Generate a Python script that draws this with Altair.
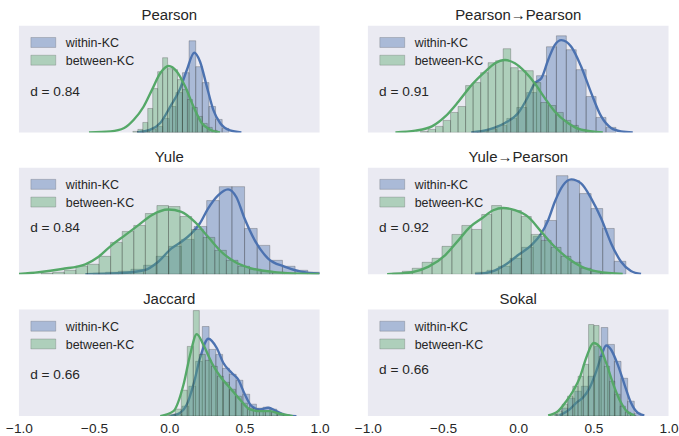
import altair as alt
import pandas as pd

BLUE = "#4C72B0"
GREEN = "#55A868"
TEXT = "#262626"
FONT = "Liberation Sans"
BG = "#EAEAF2"
YMAX = 107

# ---------------- data ----------------
titles = ["Pearson", "Pearson\u2192Pearson", "Yule", "Yule\u2192Pearson", "Jaccard", "Sokal"]
d_labels = ["d = 0.84", "d = 0.91", "d = 0.84", "d = 0.92", "d = 0.66", "d = 0.66"]

# histogram: first bin edge, bin width, bar heights (relative density units)
pearson_within_start, pearson_within_width = -0.176, 0.044
pearson_within_h = [1, 3, 6, 14, 26, 40, 60, 92, 66, 50, 26, 13, 4]
pearson_between_start, pearson_between_width = -0.242, 0.033
pearson_between_h = [1, 3, 10, 24, 44, 61, 75, 64, 63, 53, 43, 33, 25, 16, 9, 5, 2]
pearson_kde_within_x = [-0.214, -0.126, -0.06, 0.007, 0.073, 0.117, 0.166, 0.205, 0.25, 0.293, 0.338, 0.404, 0.48]
pearson_kde_within_y = [0, 2.7, 9.4, 26, 44, 62.7, 80, 71, 46, 22.7, 9.4, 2, 0]
pearson_kde_between_x = [-0.534, -0.39, -0.30, -0.236, -0.17, -0.115, -0.06, -0.005, 0.051, 0.106, 0.161, 0.216, 0.272, 0.338]
pearson_kde_between_y = [0, 1, 4.4, 12.7, 26, 42.7, 59.4, 66.7, 61, 46, 26, 9.4, 2.7, 0]

pp_within_start, pp_within_width = -0.274, 0.066
pp_within_h = [1, 3, 7, 14, 25, 40, 57, 86, 97, 83, 63, 36, 15, 5]
pp_between_start, pp_between_width = -0.65, 0.05
pp_between_h = [1, 3, 6, 12, 20, 26, 47, 50, 60, 70, 72, 84, 65, 62, 62, 50, 30, 27, 20, 12, 7, 3, 1]
pp_kde_within_x = [-0.313, -0.199, -0.088, 0.0, 0.066, 0.11, 0.154, 0.199, 0.243, 0.287, 0.353, 0.419, 0.486, 0.552, 0.618, 0.684, 0.762]
pp_kde_within_y = [0, 2.7, 9.4, 19.4, 36, 49.4, 54.4, 72.7, 87.7, 92.7, 86, 66, 39.4, 16, 4.4, 1, 0]
pp_kde_between_x = [-0.817, -0.684, -0.574, -0.485, -0.397, -0.309, -0.22, -0.154, -0.088, -0.022, 0.044, 0.11, 0.177, 0.243, 0.331, 0.419, 0.563]
pp_kde_between_y = [0, 1.7, 6, 16, 31, 47.7, 61, 69.4, 72.7, 69.4, 61, 49.4, 34.4, 21, 9.4, 2.7, 0]

yule_within_start, yule_within_width = -0.507, 0.084
yule_within_h = [1, 2, 3, 5, 9, 18, 28, 35, 48, 74, 88, 88, 46, 29, 14, 8, 4, 2]
yule_between_start, yule_between_width = -0.852, 0.077
yule_between_h = [1, 2, 4, 8, 10, 18, 32, 43, 49, 61, 69, 68, 58, 45, 37, 24, 14, 8, 5, 3, 2, 1]
yule_kde_within_x = [-0.558, -0.338, -0.161, -0.073, 0.015, 0.081, 0.148, 0.203, 0.258, 0.325, 0.391, 0.446, 0.501, 0.568, 0.656, 0.766, 0.876, 1.0]
yule_kde_within_y = [0, 1, 4.3, 12.6, 26, 32.6, 41, 51, 66, 79.3, 85.3, 77.6, 56, 34.3, 16, 7.6, 2.6, 0.6]
yule_kde_between_x = [-1.0, -0.868, -0.713, -0.558, -0.47, -0.382, -0.293, -0.205, -0.117, -0.007, 0.081, 0.17, 0.258, 0.346, 0.435, 0.545, 0.677, 0.876, 1.0]
yule_kde_between_y = [0.3, 2, 5.3, 10, 17.6, 29.3, 39.3, 49.3, 59.3, 65, 62.6, 52.6, 37.6, 22.6, 12.6, 6, 2.6, 0.6, 0.3]

yp_within_start, yp_within_width = -0.285, 0.077
yp_within_h = [2, 4, 8, 16, 27, 38, 54, 99, 94, 81, 66, 46, 13]
yp_between_start, yp_between_width = -0.837, 0.066
yp_between_h = [1, 3, 6, 12, 16, 28, 40, 49, 45, 60, 69, 66, 64, 58, 40, 34, 27, 18, 12, 6, 3, 1]
yp_kde_within_x = [-0.287, -0.177, -0.088, 0.0, 0.088, 0.154, 0.199, 0.243, 0.298, 0.353, 0.42, 0.486, 0.552, 0.618, 0.684, 0.75, 0.817]
yp_kde_within_y = [0, 2.6, 9.3, 19.3, 29.3, 41, 54.3, 72.6, 89.3, 95.3, 91, 76, 56, 31, 12.6, 3.3, 0.3]
yp_kde_between_x = [-0.872, -0.707, -0.596, -0.485, -0.397, -0.32, -0.243, -0.166, -0.099, -0.022, 0.066, 0.154, 0.243, 0.331, 0.42, 0.53, 0.695]
yp_kde_between_y = [0, 2, 7.6, 19.3, 34.3, 47.6, 56, 64.3, 66.6, 64.3, 57.6, 42.6, 27.6, 16, 7.6, 2.6, 0.3]

jac_within_start, jac_within_width = 0.04, 0.045
jac_within_h = [2, 10, 30, 55, 90, 67, 62, 48, 42, 36, 22, 12, 8, 9, 7, 3, 1]
jac_between_start, jac_between_width = -0.04, 0.04
jac_between_h = [1, 2, 7, 26, 70, 106, 62, 56, 50, 40, 34, 27, 20, 13, 8, 6, 5, 5, 4, 2, 1]
jac_kde_within_x = [0.007, 0.073, 0.117, 0.161, 0.205, 0.26, 0.316, 0.36, 0.415, 0.459, 0.503, 0.548, 0.603, 0.658, 0.713, 0.779, 0.846]
jac_kde_within_y = [0, 3.4, 11.7, 31.7, 58.4, 77.7, 68.4, 53.4, 43.4, 36.7, 21.7, 10, 6.7, 8.4, 5, 0.7, 0]
jac_kde_between_x = [-0.06, 0.028, 0.095, 0.139, 0.183, 0.227, 0.283, 0.338, 0.404, 0.47, 0.536, 0.603, 0.669, 0.735, 0.823]
jac_kde_between_y = [0, 5, 31.7, 61.7, 82.4, 71.7, 53.4, 40, 28.4, 16.7, 6.7, 5, 5, 2.4, 0]

sok_within_start, sok_within_width = 0.244, 0.044
sok_within_h = [2, 8, 18, 25, 30, 40, 70, 89, 72, 55, 38, 15, 3]
sok_between_start, sok_between_width = 0.223, 0.035
sok_between_h = [2, 5, 12, 20, 30, 40, 52, 92, 91, 60, 50, 35, 22, 10, 4, 1]
sok_kde_within_x = [0.276, 0.342, 0.386, 0.43, 0.475, 0.519, 0.552, 0.585, 0.618, 0.662, 0.707, 0.75, 0.795, 0.839]
sok_kde_within_y = [0.7, 6.7, 13.4, 18.4, 28.4, 45, 60, 71, 66.7, 51.7, 31.7, 13.4, 3.4, 0.7]
sok_kde_between_x = [0.199, 0.265, 0.32, 0.364, 0.409, 0.452, 0.501, 0.541, 0.585, 0.629, 0.673, 0.717, 0.773]
sok_kde_between_y = [0.7, 5, 15, 25, 38.4, 58.4, 73.4, 70, 53.4, 33.4, 16.7, 5.7, 0.7]

# ---------------- helpers ----------------
def hist_df(start, width, heights):
    return pd.DataFrame({
        "x0": [start + i * width for i in range(len(heights))],
        "x1": [start + (i + 1) * width for i in range(len(heights))],
        "h": heights,
        "h0": [0] * len(heights),
    })


def kde_df(xs, ys):
    return pd.DataFrame({"x": xs, "y": ys})


X_SCALE = alt.Scale(domain=[-1, 1], nice=False, zero=False)
Y_SCALE = alt.Scale(domain=[0, YMAX], nice=False, zero=False)


def make_panel(title, wi, bt, kw, kb, d_label, d_y, bottom):
    if bottom:
        xax = alt.Axis(values=[-1, -0.5, 0, 0.5, 1], format=".1f", labelFlush=False,
                       ticks=False, domain=False, grid=False, title=None,
                       labelFont=FONT, labelFontSize=13.75, labelColor=TEXT, labelPadding=5)
    else:
        xax = None

    def bars(df, color):
        return alt.Chart(df).mark_rect(fill=color, fillOpacity=0.4, stroke="#303030",
                                       strokeOpacity=0.4, strokeWidth=0.7, clip=True).encode(
            x=alt.X("x0:Q", scale=X_SCALE, axis=xax), x2="x1:Q",
            y=alt.Y("h:Q", scale=Y_SCALE, axis=None), y2="h0:Q")

    def kde(df, color):
        return alt.Chart(df).mark_line(color=color, strokeWidth=2.4, interpolate="monotone",
                                       clip=True).encode(
            x=alt.X("x:Q", scale=X_SCALE, axis=xax),
            y=alt.Y("y:Q", scale=Y_SCALE, axis=None))

    one = pd.DataFrame({"k": [0]})

    def patch(color, y0):
        return alt.Chart(one).mark_rect(fill=color, fillOpacity=0.4, stroke="#303030",
                                        strokeOpacity=0.3, strokeWidth=0.7).encode(
            x=alt.value(12), x2=alt.value(37), y=alt.value(y0), y2=alt.value(y0 + 10))

    def label(txt, x, y, size):
        return alt.Chart(one).mark_text(text=txt, align="left", baseline="alphabetic",
                                        font=FONT, fontSize=size, color=TEXT).encode(
            x=alt.value(x), y=alt.value(y))

    return alt.layer(
        bars(wi, BLUE), kde(kw, BLUE), bars(bt, GREEN), kde(kb, GREEN),
        patch(BLUE, 11.7), patch(GREEN, 29.5),
        label("within-KC", 47, 21.5, 12.5), label("between-KC", 47, 39.3, 12.5),
        label(d_label, 11.3, d_y, 13.75),
    ).properties(
        width=302, height=YMAX,
        title=alt.TitleParams(text=title, font=FONT, fontSize=15, fontWeight="normal",
                              color=TEXT, offset=3, anchor="middle"),
    )


panels = [
    make_panel(titles[0], hist_df(pearson_within_start, pearson_within_width, pearson_within_h),
               hist_df(pearson_between_start, pearson_between_width, pearson_between_h),
               kde_df(pearson_kde_within_x, pearson_kde_within_y),
               kde_df(pearson_kde_between_x, pearson_kde_between_y), d_labels[0], 70, False),
    make_panel(titles[1], hist_df(pp_within_start, pp_within_width, pp_within_h),
               hist_df(pp_between_start, pp_between_width, pp_between_h),
               kde_df(pp_kde_within_x, pp_kde_within_y),
               kde_df(pp_kde_between_x, pp_kde_between_y), d_labels[1], 70, False),
    make_panel(titles[2], hist_df(yule_within_start, yule_within_width, yule_within_h),
               hist_df(yule_between_start, yule_between_width, yule_between_h),
               kde_df(yule_kde_within_x, yule_kde_within_y),
               kde_df(yule_kde_between_x, yule_kde_between_y), d_labels[2], 64.6, False),
    make_panel(titles[3], hist_df(yp_within_start, yp_within_width, yp_within_h),
               hist_df(yp_between_start, yp_between_width, yp_between_h),
               kde_df(yp_kde_within_x, yp_kde_within_y),
               kde_df(yp_kde_between_x, yp_kde_between_y), d_labels[3], 64.6, False),
    make_panel(titles[4], hist_df(jac_within_start, jac_within_width, jac_within_h),
               hist_df(jac_between_start, jac_between_width, jac_between_h),
               kde_df(jac_kde_within_x, jac_kde_within_y),
               kde_df(jac_kde_between_x, jac_kde_between_y), d_labels[4], 69.3, True),
    make_panel(titles[5], hist_df(sok_within_start, sok_within_width, sok_within_h),
               hist_df(sok_between_start, sok_between_width, sok_between_h),
               kde_df(sok_kde_within_x, sok_kde_within_y),
               kde_df(sok_kde_between_x, sok_kde_between_y), d_labels[5], 64.3, True),
]

chart = alt.concat(*panels, columns=2, spacing={"row": 35.5, "column": 48.5}, bounds="flush").properties(
    padding={"left": 5, "top": 7, "right": 0, "bottom": 0}
).configure_view(fill=BG, strokeWidth=0)

chart.save("out.html", embed_options={"renderer": "svg", "actions": False})
